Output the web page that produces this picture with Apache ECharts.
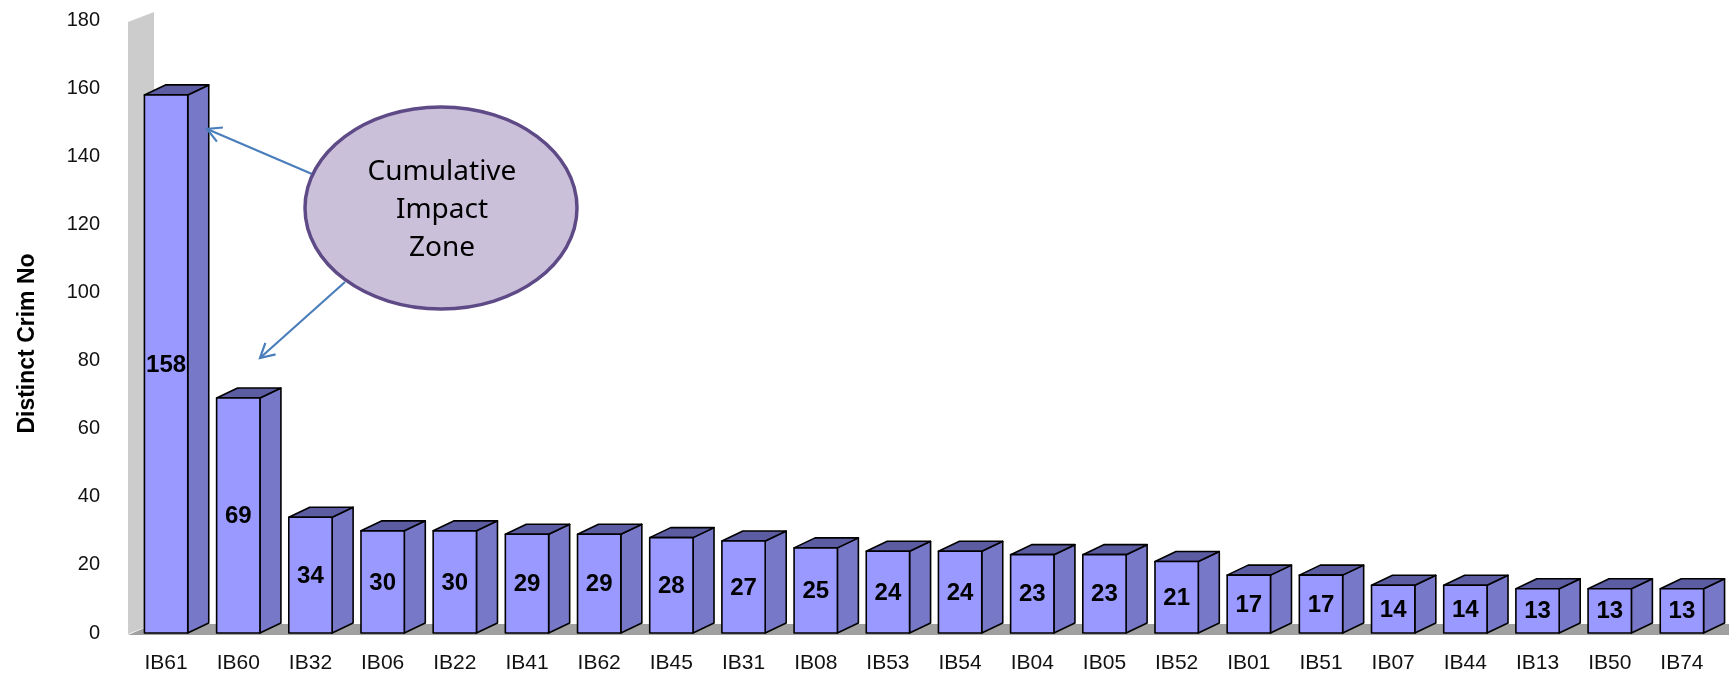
<!DOCTYPE html>
<html><head><meta charset="utf-8">
<script src="https://cdn.jsdelivr.net/npm/echarts@6/dist/echarts.min.js"></script>
<style>html,body{margin:0;padding:0;background:#fff}#c{width:1729px;height:675px}</style>
</head><body><div id="c"></div>
<script>
const categories = ['IB61','IB60','IB32','IB06','IB22','IB41','IB62','IB45','IB31','IB08','IB53','IB54','IB04','IB05','IB52','IB01','IB51','IB07','IB44','IB13','IB50','IB74'];
const values = [158,69,34,30,30,29,29,28,27,25,24,24,23,23,21,17,17,14,14,13,13,13];
const yTicks = [0,20,40,60,80,100,120,140,160,180];
const yTitle = 'Distinct Crim No';
const calloutLines = ['Cumulative','Impact','Zone'];

const chart = echarts.init(document.getElementById('c'));
const DX = 21, DY = -10;

function arrow(x1,y1,x2,y2){
  const a = Math.atan2(y2-y1,x2-x1), L = 16, w = 0.5;
  const p1 = [x2 - L*Math.cos(a-w), y2 - L*Math.sin(a-w)];
  const p2 = [x2 - L*Math.cos(a+w), y2 - L*Math.sin(a+w)];
  const st = {stroke:'#4A7EBB', lineWidth:2.2, fill:null};
  return [
    {type:'line', shape:{x1,y1,x2,y2}, style:st, z:50},
    {type:'polyline', shape:{points:[p1,[x2,y2],p2]}, style:st, z:50}
  ];
}

chart.setOption({
  animation:false,
  grid:{left:130, right:11, top:20, bottom:42},
  xAxis:{type:'category', data:categories, axisLine:{show:false}, axisTick:{show:false},
    axisLabel:{margin:20, fontSize:21, color:'#111', fontFamily:'Liberation Sans, Arial'}},
  yAxis:{type:'value', min:0, max:180, interval:20, splitLine:{show:false},
    axisLine:{show:false}, axisTick:{show:false},
    axisLabel:{margin:30, fontSize:20, color:'#111', fontFamily:'Liberation Sans, Arial',
      formatter:v=> yTicks.indexOf(v)>=0 ? String(v) : ''},
    name:yTitle, nameLocation:'middle', nameGap:91,
    nameTextStyle:{fontSize:23, fontWeight:'bold', color:'#000', fontFamily:'Liberation Sans, Arial', padding:[0,34,0,0]}},
  series:[
    {type:'custom', data:[[0,0]], silent:true, z:1,
     renderItem(params, api){
       const cs = params.coordSys;
       const L = cs.x - 2, R = cs.x + cs.width, T = cs.y, B = cs.y + cs.height + 1;
       const WD = 26;
       return {type:'group', children:[
         {type:'polygon', shape:{points:[[L,B],[L,T+2],[L+WD,T-8],[L+WD,B-10]]}, style:{fill:'#CCCCCC'}},
         {type:'polygon', shape:{points:[[L,B+1],[R+WD,B+1],[R+WD+WD,B-10],[L+WD,B-10]]}, style:{fill:'#A0A0A0'}}
       ]};
     }},
    {type:'custom', z:5, clip:false,
     data:values.map((v,i)=>[i,v]),
     renderItem(params, api){
       const i = api.value(0), v = api.value(1);
       const top = api.coord([i, v]), bot = api.coord([i, 0]);
       const bw = api.size([1,0])[0]*0.6;
       const x0 = top[0]-bw/2, x1 = top[0]+bw/2, yt = top[1], yb = bot[1];
       const ln = {stroke:'#000', lineWidth:1.6, lineJoin:'round'};
       return {type:'group', children:[
         {type:'polygon', shape:{points:[[x1,yb],[x1,yt],[x1+DX,yt+DY],[x1+DX,yb+DY]]}, style:Object.assign({fill:'#7878C8'},ln)},
         {type:'polygon', shape:{points:[[x0,yt],[x1,yt],[x1+DX,yt+DY],[x0+DX,yt+DY]]}, style:Object.assign({fill:'#5C5CA3'},ln)},
         {type:'rect', shape:{x:x0, y:yt, width:bw, height:yb-yt}, style:Object.assign({fill:'#9999FF'},ln)},
         {type:'text', x:(x0+x1)/2, y:(yt+yb)/2+1, style:{text:String(values[i]), fill:'#000', font:'bold 24px "Liberation Sans", Arial', align:'center', verticalAlign:'middle'}, z2:10}
       ]};
     }}
  ],
  graphic:[
    ...arrow(312,174,207,129),
    ...arrow(345,282,260,358),
    {type:'ellipse', shape:{cx:441, cy:208, rx:136, ry:101}, style:{fill:'#CBC0DA', stroke:'#5E4A86', lineWidth:3.5}, z:60},
    {type:'text', x:442, y:210, z:61, style:{text:calloutLines.join('\n'), fill:'#000', font:'28px "Noto Sans"', lineHeight:38, align:'center', verticalAlign:'middle'}}
  ]
});
</script></body></html>
